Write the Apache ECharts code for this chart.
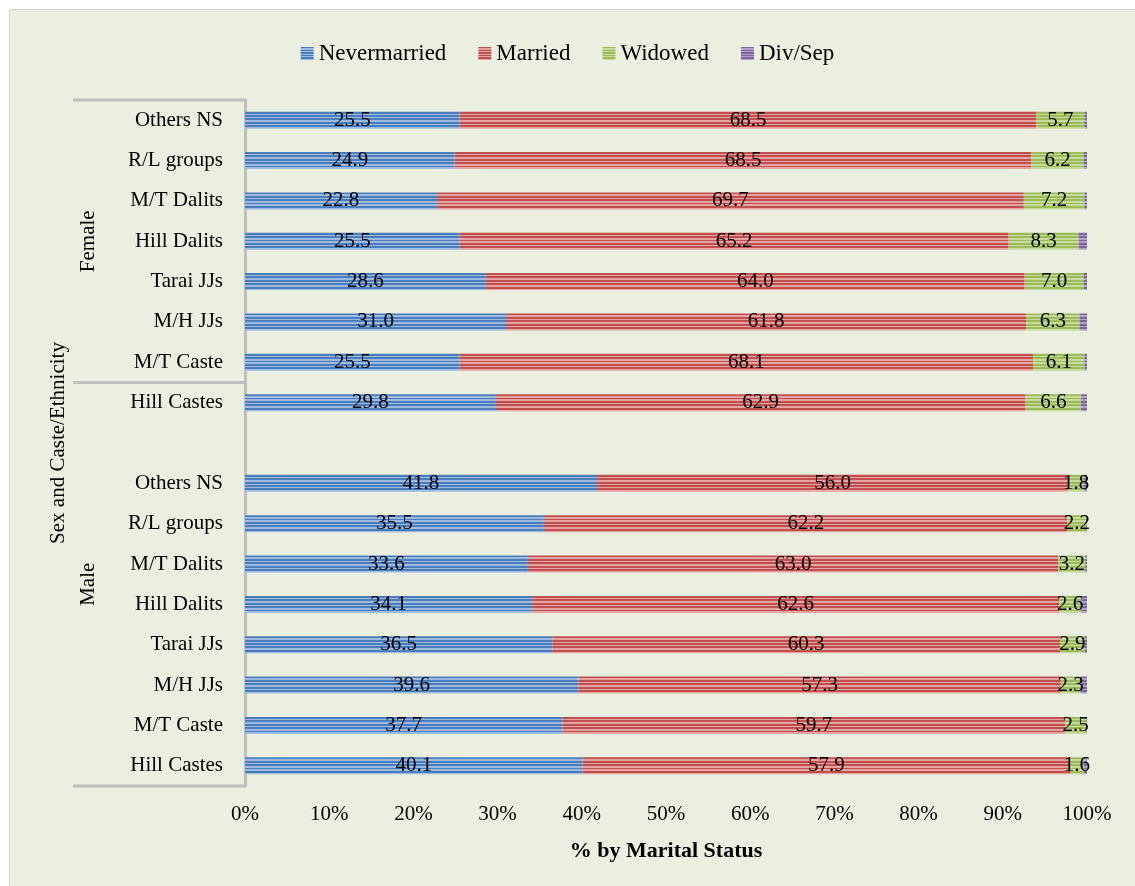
<!DOCTYPE html>
<html>
<head>
<meta charset="utf-8">
<script src="https://cdn.jsdelivr.net/npm/echarts@6/dist/echarts.min.js"></script>
<style>
	html, body { margin: 0; padding: 0; background: #ffffff; }
	#chart { width: 1135px; height: 886px; }
</style>
</head>
<body>
<div id="chart"></div>
<script>
// categories from bottom to top, '' is the blank row between the two groups
var castes = ['Hill Castes', 'M/T Caste', 'M/H JJs', 'Tarai JJs', 'Hill Dalits', 'M/T Dalits', 'R/L groups', 'Others NS',
	'',
	'Hill Castes', 'M/T Caste', 'M/H JJs', 'Tarai JJs', 'Hill Dalits', 'M/T Dalits', 'R/L groups', 'Others NS'];
var sexGroups = ['Male', 'Female'];
var statusNames = ['Nevermarried', 'Married', 'Widowed', 'Div/Sep'];

var nevermarried = [40.1, 37.7, 39.6, 36.5, 34.1, 33.6, 35.5, 41.8, '-', 29.8, 25.5, 31.0, 28.6, 25.5, 22.8, 24.9, 25.5];
var married      = [57.9, 59.7, 57.3, 60.3, 62.6, 63.0, 62.2, 56.0, '-', 62.9, 68.1, 61.8, 64.0, 65.2, 69.7, 68.5, 68.5];
var widowed      = [1.6, 2.5, 2.3, 2.9, 2.6, 3.2, 2.2, 1.8, '-', 6.6, 6.1, 6.3, 7.0, 8.3, 7.2, 6.2, 5.7];
var divsep       = [0.4, 0.2, 0.8, 0.3, 0.7, 0.2, 0.2, 0.4, '-', 0.7, 0.3, 0.9, 0.4, 1.0, 0.3, 0.4, 0.3];

var FONT = 'Liberation Serif';

// horizontal stripe fill like the excel pattern
function stripes(dark, light, n) {
	var stops = [];
	for (var i = 0; i < n; i++) {
		stops.push({ offset: i / n, color: dark });
		stops.push({ offset: (i + 0.55) / n, color: dark });
		stops.push({ offset: (i + 0.55) / n, color: light });
		stops.push({ offset: (i + 1) / n, color: light });
	}
	return new echarts.graphic.LinearGradient(0, 0, 0, 1, stops);
}

var fills = [
	stripes('#4a7ebb', '#9dbbe2', 5),
	stripes('#c0504d', '#e6a3a1', 5),
	stripes('#9bbb59', '#c6dc9c', 5),
	stripes('#8064a2', '#b3a2c8', 5)
];

function makeSeries(name, data, idx, showLabel) {
	return {
		name: name,
		type: 'bar',
		stack: 'total',
		barWidth: 17,
		data: data,
		itemStyle: { color: fills[idx] },
		label: {
			show: showLabel,
			position: 'inside',
			color: '#000',
			fontFamily: FONT,
			fontSize: 21,
			formatter: function (p) { return Number(p.value).toFixed(1); }
		}
	};
}

var myChart = echarts.init(document.getElementById('chart'));
var option = {
	backgroundColor: '#ffffff',
	animation: false,
	textStyle: { fontFamily: FONT },
	legend: {
		top: 37,
		left: 'center',
		icon: 'rect',
		itemWidth: 13,
		itemHeight: 13,
		itemGap: 32,
		data: statusNames,
		textStyle: { fontFamily: FONT, fontSize: 23, color: '#000' }
	},
	grid: {
		left: 245,
		right: 48,
		top: 100,
		bottom: 100
	},
	xAxis: {
		type: 'value',
		min: 0,
		max: 100,
		interval: 10,
		name: '% by Marital Status',
		nameLocation: 'middle',
		nameGap: 54,
		nameTextStyle: { fontFamily: FONT, fontSize: 22, fontWeight: 'bold', color: '#000' },
		axisLine: { show: false },
		axisTick: { show: false },
		splitLine: { show: false },
		axisLabel: {
			margin: 18,
			fontFamily: FONT,
			fontSize: 21,
			color: '#000',
			formatter: '{value}%'
		}
	},
	yAxis: {
		type: 'category',
		data: castes,
		axisLine: { show: true, lineStyle: { color: '#bfbfbf', width: 3 } },
		axisTick: { show: false },
		axisLabel: {
			margin: 22,
			fontFamily: FONT,
			fontSize: 21,
			color: '#000'
		}
	},
	series: [
		makeSeries(statusNames[0], nevermarried, 0, true),
		makeSeries(statusNames[1], married, 1, true),
		makeSeries(statusNames[2], widowed, 2, true),
		makeSeries(statusNames[3], divsep, 3, false)
	]
};
myChart.setOption(option);

// multi-level axis: group brackets and labels placed from the axis scale
var yFirst = myChart.convertToPixel({ yAxisIndex: 0 }, castes.length - 1);
var yLast = myChart.convertToPixel({ yAxisIndex: 0 }, 0);
var band = (yLast - yFirst) / (castes.length - 1);
var yTopEdge = yFirst - band / 2;
var yBottomEdge = yLast + band / 2;
var yDivider = (myChart.convertToPixel({ yAxisIndex: 0 }, 9) + myChart.convertToPixel({ yAxisIndex: 0 }, 10)) / 2;
var axisX = myChart.convertToPixel({ xAxisIndex: 0 }, 0);
var bracketStyle = { stroke: '#bfbfbf', lineWidth: 3 };

function vText(str, x, y) {
	return {
		type: 'text', x: x, y: y, rotation: Math.PI / 2,
		style: { text: str, fontFamily: FONT, fontSize: 21, fill: '#000', align: 'center', verticalAlign: 'middle' }
	};
}

myChart.setOption({
	graphic: [
		{ type: 'rect', z: -10, silent: true, shape: { x: 9.5, y: 9.5, width: 1140, height: 890 }, style: { fill: '#ebefdf', stroke: '#d4d4d4', lineWidth: 1 } },
		{ type: 'line', shape: { x1: 73, y1: yTopEdge, x2: axisX, y2: yTopEdge }, style: bracketStyle },
		{ type: 'line', shape: { x1: 73, y1: yDivider, x2: axisX, y2: yDivider }, style: bracketStyle },
		{ type: 'line', shape: { x1: 73, y1: yBottomEdge, x2: axisX, y2: yBottomEdge }, style: bracketStyle },
		vText(sexGroups[1], 88, (yTopEdge + yDivider) / 2),
		vText(sexGroups[0], 88, (yDivider + yBottomEdge) / 2),
		vText('Sex and Caste/Ethnicity', 58, (yTopEdge + yBottomEdge) / 2)
	]
});

window.addEventListener("resize", function() {
	myChart.resize();
});
</script>
</body>
</html>
